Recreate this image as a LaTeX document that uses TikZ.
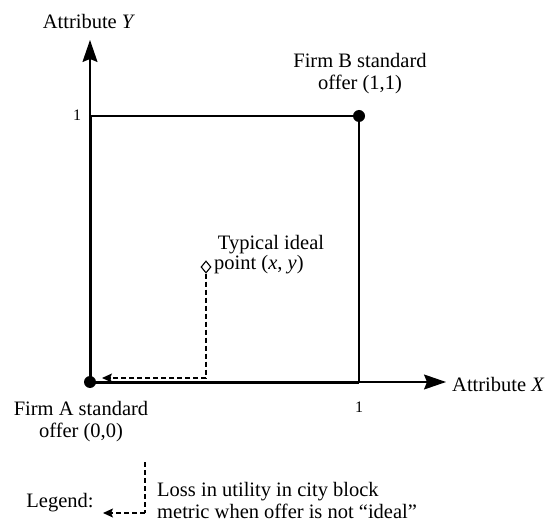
\documentclass[tikz,border=0pt]{standalone}
\usepackage{fontspec}
\setmainfont{Liberation Serif}
\usetikzlibrary{arrows.meta,shapes.geometric}
\begin{document}
\begin{tikzpicture}[x=1pt,y=-1pt,
  txt/.style={font=\fontsize{20.5}{22}\selectfont, inner sep=0pt, align=center},
  small/.style={font=\fontsize{16}{18}\selectfont, inner sep=0pt},
  thinline/.style={line width=1.5pt},
  thickline/.style={line width=3pt},
  axistip/.style={-{Stealth[length=22pt,width=15pt,inset=3pt]}},
  dashline/.style={line width=1.3pt, dash pattern=on 5pt off 3pt},
  dashtip/.style={-{Stealth[length=10pt,width=9pt,inset=2pt]}},
  dot/.style={circle, fill=black, minimum size=12pt, inner sep=0pt},
  ideal/.style={diamond, draw, line width=1.1pt, minimum width=10pt, minimum height=12pt, inner sep=0pt, fill=white}
]
\useasboundingbox (0,0) rectangle (549,529);
% key points
\coordinate (O) at (90,382);
\coordinate (Y1) at (90,116);
\coordinate (X1) at (359,382);
\coordinate (Ytip) at (90,40);
\coordinate (Xtip) at (446,382);
\coordinate (Bp) at (359,116);
% square and axes
\draw[thinline] (Y1) -- (Bp) -- (X1);
\draw[thickline] (Y1) -- (O) -- (X1);
\draw[thinline,axistip] (Y1) -- (Ytip);
\draw[thinline,axistip] (X1) -- (Xtip);
\node[dot] (A) at (O) {};
\node[dot] (B) at (Bp) {};
% ideal point
\node[ideal] (I) at (206,267) {};
\coordinate (C) at (206,378);
\coordinate (Atip) at (102,378);
\draw[dashline] (I.south) -- (C);
\draw[dashline,dashtip] (C) -- (Atip);
% labels
\node[txt, anchor=base] (ly) at (89,29) {Attribute \textit{Y}};
\node[txt, anchor=base west] (lx) at (452,391) {Attribute \textit{X}};
\node[small, anchor=base] (one1) at (77,121) {1};
\node[small, anchor=base] (one2) at (359,412) {1};
\node[txt, anchor=base] (lb) at (360,90) {Firm B standard\\offer (1,1)};
\node[txt, anchor=base] (la) at (81,437) {Firm A standard\\offer (0,0)};
\node[txt, anchor=base] (li1) at (271,250) {Typical ideal};
\node[txt, anchor=base west] (li2) at (214,270) {point (\textit{x}, \textit{y})};
% legend
\node[txt, anchor=base] (lg) at (60,507) {Legend:};
\coordinate (L1) at (145,462);
\coordinate (L2) at (145,513);
\coordinate (L3) at (103,513);
\draw[dashline] (L1) -- (L2);
\draw[dashline,dashtip] (L2) -- (L3);
\node[txt, anchor=base west, align=left] (lt) at (157,518) {Loss in utility in city block\\metric when offer is not “ideal”};
\end{tikzpicture}
\end{document}
